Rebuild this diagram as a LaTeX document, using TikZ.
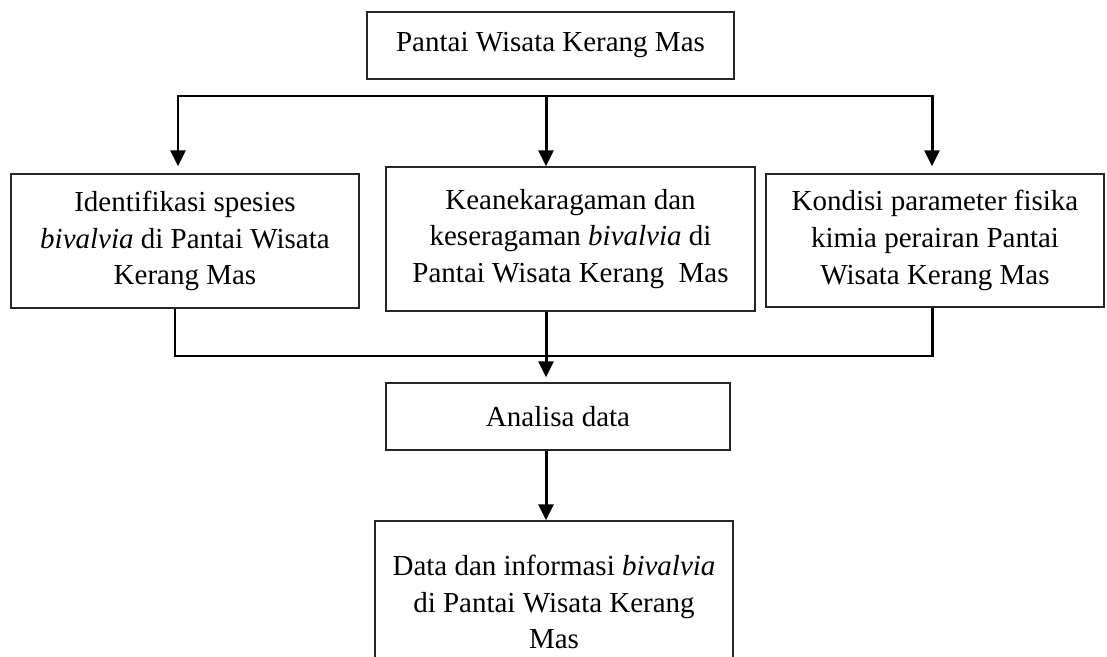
\documentclass[tikz,border=0pt]{standalone}
\usepackage{fontspec}
\setmainfont{Liberation Serif}
\usetikzlibrary{arrows.meta}

\begin{document}
\begin{tikzpicture}[
  box/.style={draw=black!85, line width=0.85pt, align=center, inner sep=0pt,
    font=\fontsize{16.5}{21}\selectfont},
  conn/.style={line width=1.7pt},
  arr/.style={conn, -{Triangle[length=0.32cm,width=0.3cm]}},
  arrs/.style={conn, {Triangle[length=0.32cm,width=0.3cm]}-{Triangle[length=0.32cm,width=0.3cm]}}
]
\useasboundingbox (0,0) rectangle (22.14,13.12);
\clip (0,0) rectangle (22.14,13.12);

\node[box, minimum width=7.34cm, minimum height=1.34cm] (judul) at (11.01,12.21) {Pantai Wisata Kerang Mas};
\node[box, minimum width=6.96cm, minimum height=2.68cm] (identifikasi) at (3.70,8.30)
  {Identifikasi spesies\\ \textit{bivalvia} di Pantai Wisata\\ Kerang Mas};
\node[box, minimum width=7.38cm, minimum height=2.88cm] (keragaman) at (11.41,8.34)
  {Keanekaragaman dan\\ keseragaman \textit{bivalvia} di\\ Pantai Wisata Kerang\ \ Mas};
\node[box, minimum width=6.76cm, minimum height=2.66cm] (kondisi) at (18.70,8.31)
  {Kondisi parameter fisika\\ kimia perairan Pantai\\ Wisata Kerang Mas};
\node[box, minimum width=6.88cm, minimum height=1.34cm] (analisa) at (11.16,4.79) {Analisa data};
\node[box, minimum width=7.16cm, minimum height=3.24cm] (hasil) at (11.08,1.08)
  {Data dan informasi \textit{bivalvia}\\ di Pantai Wisata Kerang\\ Mas};

% percabangan atas
\coordinate (tl) at (3.56,11.2);
\coordinate (tm) at (10.92,11.2);
\coordinate (tr) at (18.64,11.2);
\draw[arrs] (tl |- keragaman.north) -- (tl) -- (tr) -- (tr |- keragaman.north);
\draw[arr] (tm) -- (tm |- keragaman.north);

% penggabungan bawah
\coordinate (bl) at (3.50,6.0);
\coordinate (br) at (18.64,6.0);
\draw[conn] (bl |- identifikasi.south) -- (bl) -- (br) -- (br |- kondisi.south);
\draw[arr, shorten >=0.1cm] (tm |- keragaman.south) -- (tm |- analisa.north);
\draw[arr] (tm |- analisa.south) -- (tm |- hasil.north);
\end{tikzpicture}
\end{document}
